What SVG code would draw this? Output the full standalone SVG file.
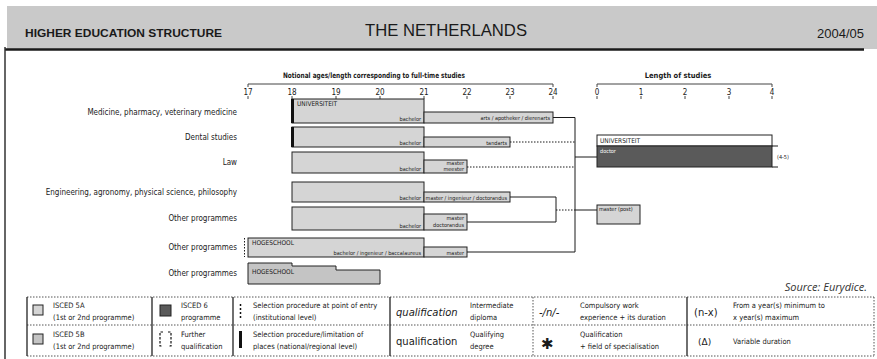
<svg xmlns="http://www.w3.org/2000/svg" width="877" height="359" viewBox="0 0 877 359">
  <defs>
    <style>
      .t { font-family: "DejaVu Sans Condensed", "DejaVu Sans", sans-serif; fill: #1a1a1a; }
      .lab { font-size: 8px; text-anchor: end; }
      .ax { font-size: 8px; text-anchor: middle; }
      .tiny { font-size: 5.5px; }
      .inst { font-size: 6.5px; }
      .leg { font-size: 7.5px; }
      .bar5a { fill: #d5d5d5; stroke: #222; stroke-width: 1; }
      .bar5b { fill: #c4c4c4; stroke: #222; stroke-width: 1; }
      .isced6 { fill: #5a5a5a; stroke: #222; stroke-width: 1; }
      .white { fill: #ffffff; stroke: #222; stroke-width: 1; }
      .sel { fill: #111; }
      .axis { stroke: #444; stroke-width: 1; fill: none; }
      .con { stroke: #1a1a1a; stroke-width: 1; fill: none; }
      .dot { stroke: #1a1a1a; stroke-width: 1; fill: none; stroke-dasharray: 1.5 1.5; }
      .lgh { stroke: #555; stroke-width: 1; stroke-dasharray: 1.5 1.5; }
      .lgv { stroke: #222; stroke-width: 1.3; }
      .big { font-family: "DejaVu Sans", sans-serif; fill: #1a1a1a; }
    </style>
  </defs>

  <rect width="877" height="359" fill="#ffffff"/>

  <!-- title band -->
  <g id="header">
    <rect x="7" y="6" width="870" height="43" fill="#c9c9c9"/>
    <line x1="5" y1="49.5" x2="864" y2="49.5" stroke="#1a1a1a" stroke-width="2.5"/>
    <line x1="5" y1="47" x2="5" y2="359" stroke="#333" stroke-width="1.5"/>
    <text x="25" y="37" font-family="Liberation Sans, sans-serif" font-size="11" font-weight="bold" fill="#1a1a1a" textLength="197" lengthAdjust="spacingAndGlyphs">HIGHER EDUCATION STRUCTURE</text>
    <text x="365" y="36" font-family="Liberation Sans, sans-serif" font-size="17" fill="#1a1a1a" textLength="162" lengthAdjust="spacingAndGlyphs">THE NETHERLANDS</text>
    <text x="864" y="38" font-family="Liberation Sans, sans-serif" font-size="13" fill="#1a1a1a" text-anchor="end">2004/05</text>
  </g>

  <!-- age axis -->
  <g id="age-axis">
    <text class="t" x="283" y="78" font-size="7.5" font-weight="bold" textLength="182" lengthAdjust="spacingAndGlyphs">Notional ages/length corresponding to full-time studies</text>
    <path class="axis" d="M248 87 V84 H553 V87"/>
    <g class="t ax">
      <text x="248" y="95">17</text><text x="292" y="95">18</text><text x="336" y="95">19</text><text x="380" y="95">20</text>
      <text x="424" y="95">21</text><text x="467" y="95">22</text><text x="510" y="95">23</text><text x="553" y="95">24</text>
    </g>
    <path class="axis" d="M248 96v3M292 96v3M336 96v3M380 96v3M424 96v3M467 96v3M510 96v3M553 96v3"/>
  </g>

  <!-- length axis -->
  <g id="length-axis">
    <text class="t" x="678" y="78" font-size="7.5" font-weight="bold" text-anchor="middle">Length of studies</text>
    <path class="axis" d="M597 87 V84 H772 V87"/>
    <g class="t ax">
      <text x="597" y="95">0</text><text x="641" y="95">1</text><text x="685" y="95">2</text><text x="729" y="95">3</text><text x="772" y="95">4</text>
    </g>
    <path class="axis" d="M597 96v3M641 96v3M685 96v3M729 96v3M772 96v3"/>
  </g>

  <!-- programme labels -->
  <g id="labels" class="t lab">
    <text x="237" y="115">Medicine, pharmacy, veterinary medicine</text>
    <text x="237" y="140">Dental studies</text>
    <text x="237" y="165">Law</text>
    <text x="237" y="195">Engineering, agronomy, physical science, philosophy</text>
    <text x="237" y="221">Other programmes</text>
    <text x="237" y="250">Other programmes</text>
    <text x="237" y="276">Other programmes</text>
  </g>

  <g id="medicine">
    <rect class="bar5a" x="292" y="99" width="132" height="24"/>
    <rect class="bar5a" x="424" y="112" width="129" height="11"/>
    <rect class="sel" x="291" y="99" width="3" height="24"/>
    <text class="t inst" x="297" y="106">UNIVERSITEIT</text>
    <text class="t tiny" x="421" y="121" text-anchor="end">bachelor</text>
    <text class="t tiny" x="550" y="120" text-anchor="end">arts / apotheker / dierenarts</text>
  </g>

  <g id="dental">
    <rect class="bar5a" x="292" y="127" width="132" height="20"/>
    <rect class="bar5a" x="424" y="137" width="86" height="10"/>
    <rect class="sel" x="291" y="127" width="3" height="20"/>
    <text class="t tiny" x="421" y="145" text-anchor="end">bachelor</text>
    <text class="t tiny" x="507" y="145" text-anchor="end">tandarts</text>
  </g>

  <g id="law">
    <rect class="bar5a" x="292" y="152" width="132" height="21"/>
    <rect class="bar5a" x="424" y="160" width="43" height="13"/>
    <text class="t tiny" x="421" y="171" text-anchor="end">bachelor</text>
    <text class="t tiny" x="464" y="165" text-anchor="end">master</text>
    <text class="t tiny" x="464" y="171" text-anchor="end">meester</text>
  </g>

  <g id="engineering">
    <rect class="bar5a" x="292" y="182" width="132" height="20"/>
    <rect class="bar5a" x="424" y="192" width="86" height="10"/>
    <text class="t tiny" x="421" y="200" text-anchor="end">bachelor</text>
    <text class="t tiny" x="507" y="200" text-anchor="end">master / ingenieur / doctorandus</text>
  </g>

  <g id="other-university">
    <rect class="bar5a" x="292" y="207" width="132" height="23"/>
    <rect class="bar5a" x="424" y="214" width="43" height="16"/>
    <text class="t tiny" x="421" y="228" text-anchor="end">bachelor</text>
    <text class="t tiny" x="464" y="220" text-anchor="end">master</text>
    <text class="t tiny" x="464" y="227" text-anchor="end">doctorandus</text>
  </g>

  <g id="hogeschool">
    <rect class="bar5a" x="248" y="238" width="176" height="19"/>
    <rect class="bar5a" x="424" y="247" width="43" height="10"/>
    <path class="dot" d="M244.5 238 V257" stroke-width="1.3"/>
    <text class="t inst" x="252" y="245">HOGESCHOOL</text>
    <text class="t tiny" x="421" y="255" text-anchor="end">bachelor / ingenieur / baccalaureus</text>
    <text class="t tiny" x="464" y="255" text-anchor="end">master</text>
  </g>

  <g id="hogeschool-short">
    <path class="bar5b" d="M248 263 H292 V266 H336 V270 H380 V284 H248 Z"/>
    <text class="t inst" x="252" y="274">HOGESCHOOL</text>
  </g>

  <g id="doctorate">
    <rect class="white" x="597" y="135" width="175" height="11"/>
    <rect class="isced6" x="597" y="146" width="175" height="21"/>
    <text class="t inst" x="600" y="143">UNIVERSITEIT</text>
    <text class="t tiny" x="600" y="153" style="fill:#ffffff">doctor</text>
    <text class="t tiny" x="777" y="159">(4-5)</text>
    <path class="con" d="M772 146 H778 M772 167 H778"/>
  </g>

  <g id="postgraduate">
    <rect class="bar5a" x="597" y="205" width="43" height="19"/>
    <text class="t tiny" x="599" y="211">master (post)</text>
  </g>

  <!-- connectors -->
  <g id="connectors">
    <path class="con" d="M553 117.5 H575 V252 H467"/>
    <path class="dot" d="M510 142 H575"/>
    <path class="dot" d="M467 167 H575"/>
    <path class="con" d="M575 157 H597"/>
    <path class="con" d="M510 197 H556 V222 H467"/>
    <path class="dot" d="M556 210 H575"/>
    <path class="con" d="M575 210 H597"/>
  </g>

  <text x="867" y="291" font-family="Open Sans, sans-serif" font-size="11" font-style="italic" fill="#333" text-anchor="end">Source: Eurydice.</text>

  <!-- key -->
  <g id="legend">
    <line class="lgh" x1="27" y1="297" x2="874" y2="297"/>
    <line class="lgh" x1="27" y1="325" x2="874" y2="325"/>
    <line class="lgh" x1="27" y1="356" x2="874" y2="356"/>
    <line class="lgv" x1="27" y1="297" x2="27" y2="356"/>
    <line class="lgv" x1="152" y1="297" x2="152" y2="356"/>
    <line class="lgv" x1="233" y1="297" x2="233" y2="356"/>
    <line class="lgv" x1="390" y1="297" x2="390" y2="356"/>
    <line class="lgh" x1="533" y1="297" x2="533" y2="356"/>
    <line class="lgv" x1="687" y1="297" x2="687" y2="356"/>
    <line class="lgh" x1="874" y1="297" x2="874" y2="356"/>

    <rect class="bar5a" x="33" y="305" width="10" height="10"/>
    <text class="t leg" x="53" y="308">ISCED 5A</text>
    <text class="t leg" x="53" y="320">(1st or 2nd programme)</text>
    <rect class="isced6" x="160" y="305" width="11" height="11"/>
    <text class="t leg" x="181" y="308">ISCED 6</text>
    <text class="t leg" x="181" y="320">programme</text>
    <path d="M240.5 304 V318" stroke="#111" stroke-width="1.5" stroke-dasharray="2 2"/>
    <text class="t leg" x="253" y="308">Selection procedure at point of entry</text>
    <text class="t leg" x="253" y="320">(institutional level)</text>
    <text class="big" x="396" y="316" font-size="10" font-style="italic">qualification</text>
    <text class="t leg" x="470" y="308">Intermediate</text>
    <text class="t leg" x="470" y="320">diploma</text>
    <text class="big" x="539" y="316" font-size="10" font-style="italic">-/n/-</text>
    <text class="t leg" x="580" y="308">Compulsory work</text>
    <text class="t leg" x="580" y="320">experience + its duration</text>
    <text class="big" x="694" y="316" font-size="10">(n-x)</text>
    <text class="t leg" x="733" y="308">From a year(s) minimum to</text>
    <text class="t leg" x="733" y="320">x year(s) maximum</text>

    <rect class="bar5b" x="33" y="334" width="10" height="10"/>
    <text class="t leg" x="53" y="337">ISCED 5B</text>
    <text class="t leg" x="53" y="349">(1st or 2nd programme)</text>
    <path d="M163 332 H160 V346 H163 M168 332 H171 V346 H168" stroke="#111" stroke-width="1.2" fill="none" stroke-dasharray="2.5 1.5"/>
    <text class="t leg" x="181" y="337">Further</text>
    <text class="t leg" x="181" y="349">qualification</text>
    <rect class="sel" x="239" y="331" width="3" height="17"/>
    <text class="t leg" x="253" y="337">Selection procedure/limitation of</text>
    <text class="t leg" x="253" y="349">places (national/regional level)</text>
    <text class="big" x="396" y="345" font-size="10">qualification</text>
    <text class="t leg" x="470" y="337">Qualifying</text>
    <text class="t leg" x="470" y="349">degree</text>
    <text class="big" x="541" y="349" font-size="15" font-weight="bold">✱</text>
    <text class="t leg" x="580" y="337">Qualification</text>
    <text class="t leg" x="580" y="349">+ field of specialisation</text>
    <text class="big" x="698" y="345" font-size="9">(Δ)</text>
    <text class="t leg" x="733" y="344">Variable duration</text>
  </g>
</svg>
